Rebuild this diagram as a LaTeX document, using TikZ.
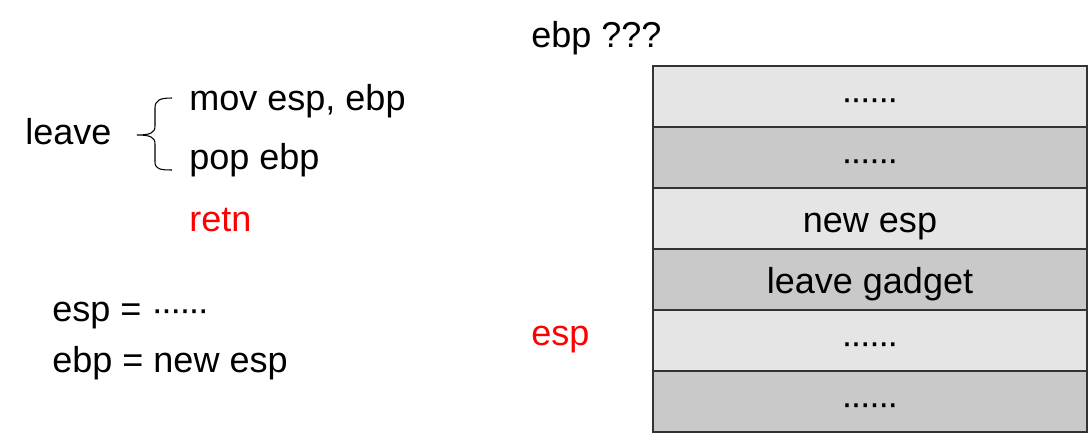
\documentclass[tikz,border=0pt]{standalone}
\usepackage{fontspec}
\setmainfont{Liberation Sans}
\usepackage{tikz}
\newcommand{\onedot}{\textperiodcentered\kern-1.6pt}
\newcommand{\sixdots}{\onedot\onedot\onedot\onedot\onedot\textperiodcentered}

\begin{document}
\begin{tikzpicture}[x=0.02cm, y=-0.02cm,
	every node/.style={inner sep=0pt, font=\fontsize{20.5}{24}\selectfont},
	txt/.style={anchor=west, text height=10.6pt, text depth=0pt},
	cell/.style={rectangle, draw=black!80, line width=1pt, minimum width=8.68cm, minimum height=1.22cm,
		text height=15.5pt, text depth=0pt},
	light/.style={cell, fill=black!10},
	dark/.style={cell, fill=black!21}]
	\useasboundingbox (0,0) rectangle (1091,447);
	\node (leave) at (25,135) [txt] {leave};
	\node (mov) at (189,101) [txt] {mov esp, ebp};
	\node (pop) at (189,160) [txt] {pop ebp};
	\node (retn) at (189,222) [txt, text=red] {retn};
	\draw[line width=0.6pt] (172,98) .. controls (160,98) and (155,100) .. (155,108) -- (155,126)
		.. controls (155,133) and (150,135) .. (137,135)
		.. controls (150,135) and (155,137) .. (155,144) -- (155,162)
		.. controls (155,169) and (160,170) .. (172,170);
	\node (espeq) at (52,312) [txt] {esp = \sixdots};
	\node (ebpeq) at (52,363) [txt] {ebp = new esp};
	\node (ebpq) at (531,38.5) [txt] {ebp ???};
	\node (esp) at (531,336) [txt, text=red] {esp};
		\node (r1) at (870,96.5) [light] {\sixdots};
		\node (r2) at (870,157.5) [dark] {\sixdots};
		\node (r3) at (870,218.5) [light] {new esp};
		\node (r4) at (870,279.5) [dark] {leave gadget};
		\node (r5) at (870,340.5) [light] {\sixdots};
		\node (r6) at (870,401.5) [dark] {\sixdots};
\end{tikzpicture}
\end{document}
